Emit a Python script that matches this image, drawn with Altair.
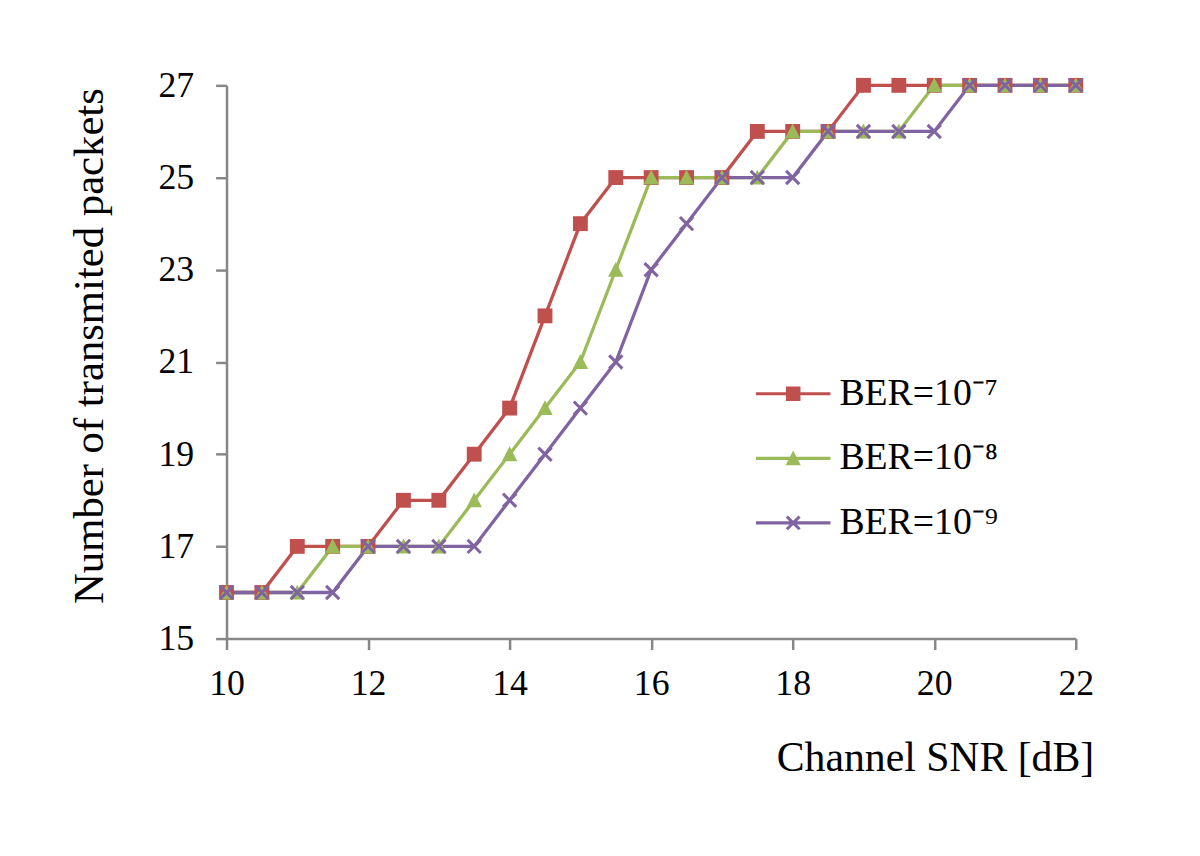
import altair as alt
import pandas as pd

# ---- data ----
snr = [10, 10.5, 11, 11.5, 12, 12.5, 13, 13.5, 14, 14.5, 15, 15.5, 16,
       16.5, 17, 17.5, 18, 18.5, 19, 19.5, 20, 20.5, 21, 21.5, 22]
ber7 = [16, 16, 17, 17, 17, 18, 18, 19, 20, 22, 24, 25, 25,
        25, 25, 26, 26, 26, 27, 27, 27, 27, 27, 27, 27]
ber8 = [16, 16, 16, 17, 17, 17, 17, 18, 19, 20, 21, 23, 25,
        25, 25, 25, 26, 26, 26, 26, 27, 27, 27, 27, 27]
ber9 = [16, 16, 16, 16, 17, 17, 17, 17, 18, 19, 20, 21, 23,
        24, 25, 25, 25, 26, 26, 26, 26, 27, 27, 27, 27]
series_labels = ["BER=10\u207b\u2077", "BER=10\u207b\u2078", "BER=10\u207b\u2079"]
colors = ["#C0504D", "#9BBB59", "#8064A2"]
x_ticks = [10, 12, 14, 16, 18, 20, 22]
y_ticks = [15, 17, 19, 21, 23, 25, 27]

rows = []
for lab, vals in zip(series_labels, [ber7, ber8, ber9]):
    for xv, yv in zip(snr, vals):
        rows.append({"snr": xv, "packets": yv, "series": lab})
df = pd.DataFrame(rows)

FONT = "Liberation Serif"
AXIS_GRAY = "#878787"


def x_path(e, k):
    pts = [(-e + k, -e), (0, -k), (e - k, -e), (e, -e + k), (k, 0), (e, e - k),
           (e - k, e), (0, k), (-e + k, e), (-e, e - k), (-k, 0), (-e, -e + k)]
    return "M" + "L".join(f"{a:.4f},{b:.4f}" for a, b in pts) + "Z"


# chart markers (unit = sqrt(size)/2)
marker_paths = [
    "M-0.85,-0.85H0.85V0.85H-0.85Z",
    "M0,-0.9L0.88,0.8H-0.88Z",
    x_path(0.88, 0.245),
]
# legend symbols: line + marker (unit = 37.5 px)
lt = 0.0427
line_rect = f"M-1,-{lt}H1V{lt}H-1Z"
legend_paths = [
    line_rect + "M-0.195,-0.195H0.195V0.195H-0.195Z",
    line_rect + "M0,-0.21L0.205,0.185H-0.205Z",
    line_rect + x_path(0.2, 0.057),
]

x_enc = alt.X(
    "snr:Q",
    scale=alt.Scale(domain=[10, 22], nice=False, zero=False),
    axis=alt.Axis(
        values=x_ticks, title="Channel SNR [dB]", grid=False, labelFlush=False,
        tickSize=11, tickWidth=2.5, tickColor=AXIS_GRAY,
        domainColor=AXIS_GRAY, domainWidth=2.5,
        labelFont=FONT, labelFontSize=36, labelColor="black", labelPadding=17,
        titleFont=FONT, titleFontSize=42, titleFontWeight="normal", titleColor="black",
        titleAnchor="end", titleAlign="right", titleBaseline="alphabetic",
        titleX=873, titleY=133,
    ),
)
y_enc = alt.Y(
    "packets:Q",
    scale=alt.Scale(domain=[15, 27], nice=False, zero=False),
    axis=alt.Axis(
        values=y_ticks, title="Number of transmited packets", grid=False, labelFlush=False,
        tickSize=11, tickWidth=2.5, tickColor=AXIS_GRAY,
        domainColor=AXIS_GRAY, domainWidth=2.5,
        labelFont=FONT, labelFontSize=36, labelColor="black", labelPadding=22,
        titleFont=FONT, titleFontSize=43, titleFontWeight="normal", titleColor="black",
        titleAngle=-90, titleAlign="center", titleBaseline="alphabetic",
        titleX=-125, titleY=262,
    ),
)

color_scale = alt.Scale(domain=series_labels, range=colors)

lines = alt.Chart(df).mark_line(strokeWidth=3.3).encode(
    x=x_enc, y=y_enc,
    color=alt.Color("series:N", scale=color_scale, legend=None),
    order=alt.Order("snr:Q"),
)

points = alt.Chart(df).mark_point(filled=True, size=310, opacity=1).encode(
    x=x_enc, y=y_enc,
    color=alt.Color("series:N", scale=color_scale, legend=None),
    shape=alt.Shape("series:N", scale=alt.Scale(domain=series_labels, range=marker_paths),
                    legend=None),
)

leg = alt.Legend(
    title=None, orient="none", legendX=533, legendY=273,
    symbolSize=5625, symbolStrokeWidth=0, labelOffset=9,
    labelFont=FONT, labelFontSize=38, labelColor="black", rowPadding=8,
    labelLimit=400,
)
legend_layer = alt.Chart(df).transform_filter("false").mark_point(filled=True, opacity=1).encode(
    color=alt.Color("series:N", scale=alt.Scale(domain=series_labels, range=colors), legend=leg),
    shape=alt.Shape("series:N", scale=alt.Scale(domain=series_labels, range=legend_paths), legend=leg),
)

chart = alt.layer(lines, points, legend_layer).resolve_scale(
    color="independent", shape="independent"
).properties(
    width=855, height=557,
    autosize=alt.AutoSizeParams(type="none"),
    padding={"left": 220, "top": 75, "right": 117, "bottom": 216},
    background="white",
).configure_view(stroke=None)

chart.save("out.html", embed_options={"renderer": "svg", "actions": False})
